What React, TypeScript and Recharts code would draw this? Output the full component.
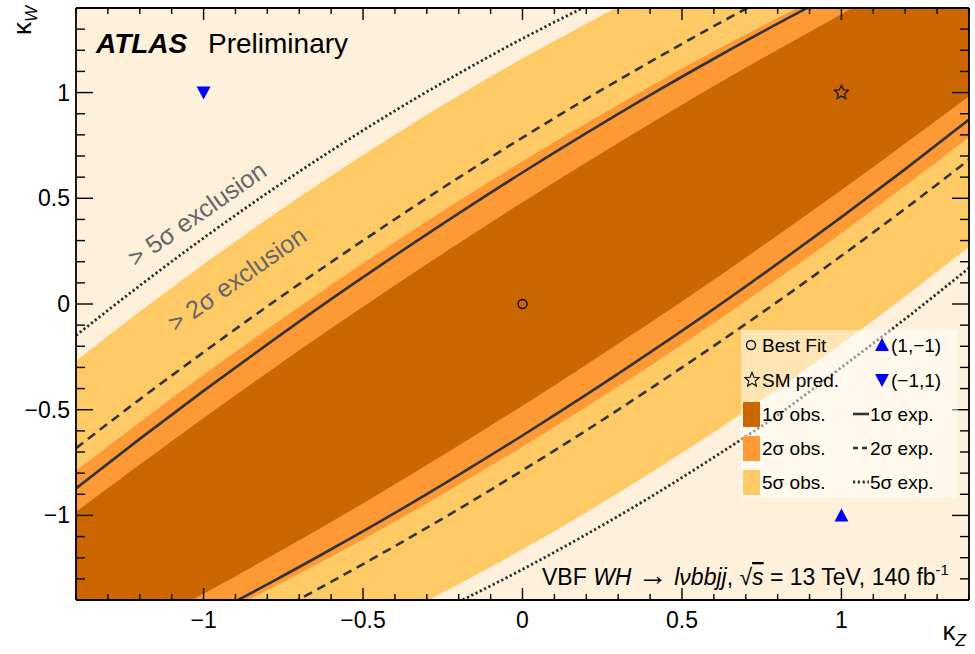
import React from "react";
import {
  ComposedChart, Area, Line, Scatter,
  XAxis, YAxis, CartesianGrid, Legend,
} from "recharts";

const FONT = "'Liberation Sans', Arial, Helvetica, sans-serif";

const C_PALE = "#FEF0DB";
const C_5S = "#FECA66";
const C_2S = "#FE9A36";
const C_1S = "#CC6600";
const C_LINE = "#333333";
const DOTS = "2.2 2.6";
const DASHES = "9 6";

// kappa_Z sampling of the contours
const kappaZ = [-1.4, -1.2, -1.0, -0.8, -0.6, -0.4, -0.2, 0, 0.2, 0.4, 0.6, 0.8, 1.0, 1.2, 1.4];

// kappa_W of each contour edge (upper = top-left edge, lower = bottom-right edge)
const obs1Upper = [-0.983, -0.759, -0.539, -0.325, -0.115, 0.089, 0.287, 0.481, 0.669, 0.853, 1.031, 1.203, 1.371, 1.533, 1.691];
const obs1Lower = [-1.691, -1.533, -1.371, -1.203, -1.031, -0.853, -0.669, -0.481, -0.287, -0.089, 0.115, 0.325, 0.539, 0.759, 0.983];
const obs2Upper = [-0.789, -0.559, -0.335, -0.119, 0.091, 0.293, 0.487, 0.675, 0.855, 1.029, 1.195, 1.353, 1.505, 1.649, 1.787];
const obs2Lower = [-1.787, -1.649, -1.505, -1.353, -1.195, -1.029, -0.855, -0.675, -0.487, -0.293, -0.091, 0.119, 0.335, 0.559, 0.789];
const obs5Upper = [-0.270, -0.036, 0.188, 0.402, 0.606, 0.801, 0.986, 1.161, 1.326, 1.482, 1.628, 1.764, 1.890, 2.007, 2.113];
const obs5Lower = [-2.113, -2.007, -1.890, -1.764, -1.628, -1.482, -1.326, -1.161, -0.986, -0.801, -0.606, -0.402, -0.188, 0.036, 0.270];
const exp1Upper = [-0.872, -0.638, -0.411, -0.191, 0.023, 0.229, 0.429, 0.622, 0.808, 0.988, 1.160, 1.326, 1.485, 1.637, 1.783];
const exp1Lower = [-1.783, -1.637, -1.485, -1.326, -1.160, -0.988, -0.808, -0.622, -0.429, -0.229, -0.023, 0.191, 0.411, 0.638, 0.872];
const exp2Upper = [-0.682, -0.451, -0.228, -0.011, 0.198, 0.401, 0.598, 0.787, 0.970, 1.145, 1.314, 1.477, 1.632, 1.781, 1.922];
const exp2Lower = [-1.922, -1.781, -1.632, -1.477, -1.314, -1.145, -0.970, -0.787, -0.598, -0.401, -0.198, 0.011, 0.228, 0.451, 0.682];
const exp5Upper = [-0.149, 0.087, 0.312, 0.525, 0.725, 0.914, 1.090, 1.255, 1.408, 1.548, 1.677, 1.793, 1.898, 1.991, 2.071];
const exp5Lower = [-2.071, -1.991, -1.898, -1.793, -1.677, -1.548, -1.408, -1.255, -1.090, -0.914, -0.725, -0.525, -0.300, -0.070, 0.170];

// marked points
const bestFit = [{ kz: 0, kw: 0 }];
const smPrediction = [{ kz: 1, kw: 1 }];
const pointPlusMinus = [{ kz: 1, kw: -1 }];
const pointMinusPlus = [{ kz: -1, kw: 1 }];

const axisTicks = [
  -1.4, -1.3, -1.2, -1.1, -1, -0.9, -0.8, -0.7, -0.6, -0.5, -0.4, -0.3, -0.2, -0.1,
  0, 0.1, 0.2, 0.3, 0.4, 0.5, 0.6, 0.7, 0.8, 0.9, 1, 1.1, 1.2, 1.3, 1.4,
];
const majorTicks = [-1, -0.5, 0, 0.5, 1];
const majorLabels = ["\u22121", "\u22120.5", "0", "0.5", "1"];

const data = kappaZ.map((kz, i) => ({
  kz,
  obs5: [obs5Lower[i], obs5Upper[i]],
  obs2: [obs2Lower[i], obs2Upper[i]],
  obs1: [obs1Lower[i], obs1Upper[i]],
  exp1Upper: exp1Upper[i],
  exp1Lower: exp1Lower[i],
  exp2Upper: exp2Upper[i],
  exp2Lower: exp2Lower[i],
  exp5Upper: exp5Upper[i],
  exp5Lower: exp5Lower[i],
}));

const majorIndex = (v: number) => majorTicks.findIndex((m) => Math.abs(m - v) < 1e-6);

function BottomTick({ x, y, payload }: any) {
  const k = majorIndex(payload.value);
  return (
    <g>
      <line x1={x} x2={x} y1={y} y2={y - (k >= 0 ? 12 : 6)} stroke="#000" strokeWidth={1.4} />
      {k >= 0 && (
        <text x={x} y={y + 28} textAnchor="middle" fontSize={23} fontFamily={FONT} fill="#000">
          {majorLabels[k]}
        </text>
      )}
    </g>
  );
}

function TopTick({ x, y, payload }: any) {
  const k = majorIndex(payload.value);
  return <line x1={x} x2={x} y1={y} y2={y + (k >= 0 ? 12 : 6)} stroke="#000" strokeWidth={1.4} />;
}

function LeftTick({ x, y, payload }: any) {
  const k = majorIndex(payload.value);
  return (
    <g>
      <line x1={x} x2={x + (k >= 0 ? 17 : 9)} y1={y} y2={y} stroke="#000" strokeWidth={1.4} />
      {k >= 0 && (
        <text x={x - 6} y={y + 8} textAnchor="end" fontSize={23} fontFamily={FONT} fill="#000">
          {majorLabels[k]}
        </text>
      )}
    </g>
  );
}

function RightTick({ x, y, payload }: any) {
  const k = majorIndex(payload.value);
  return <line x1={x} x2={x - (k >= 0 ? 17 : 9)} y1={y} y2={y} stroke="#000" strokeWidth={1.4} />;
}

function starPath(cx: number, cy: number, R: number, r: number) {
  let d = "";
  for (let i = 0; i < 10; i++) {
    const rad = i % 2 === 0 ? R : r;
    const a = -Math.PI / 2 + (i * Math.PI) / 5;
    d += (i === 0 ? "M" : "L") + (cx + rad * Math.cos(a)).toFixed(2) + "," + (cy + rad * Math.sin(a)).toFixed(2);
  }
  return d + "Z";
}

const CircleShape = ({ cx, cy }: any) => (
  <circle cx={cx} cy={cy} r={4.5} fill="none" stroke="#000" strokeWidth={1.3} />
);
const StarShape = ({ cx, cy }: any) => (
  <path d={starPath(cx, cy, 7.5, 3.4)} fill="none" stroke="#000" strokeWidth={1.1} />
);
const UpTriangle = ({ cx, cy }: any) => (
  <path d={`M${cx},${cy - 7}L${cx + 7},${cy + 6}L${cx - 7},${cy + 6}Z`} fill="#0000FF" />
);
const DownTriangle = ({ cx, cy }: any) => (
  <path d={`M${cx},${cy + 7}L${cx + 7},${cy - 6}L${cx - 7},${cy - 6}Z`} fill="#0000FF" />
);

function LegendBox() {
  const rows = [15, 50, 84, 118, 152];
  const fs = 19;
  const t = (x: number, row: number, s: React.ReactNode) => (
    <text x={x} y={rows[row] + 7} fontSize={fs} fontFamily={FONT} fill="#000">{s}</text>
  );
  return (
    <svg width={217} height={168} style={{ display: "block" }}>
      <rect x={0} y={0} width={217} height={168} fill="#FFFFFF" fillOpacity={0.5} />
      <circle cx={10} cy={rows[0]} r={4.5} fill="none" stroke="#000" strokeWidth={1.3} />
      {t(21, 0, "Best Fit")}
      <path d={starPath(11, rows[1], 7.5, 3.4)} fill="none" stroke="#000" strokeWidth={1.1} />
      {t(21, 1, "SM pred.")}
      <rect x={2} y={rows[2] - 12} width={17} height={25} fill={C_1S} />
      {t(21, 2, "1\u03c3 obs.")}
      <rect x={2} y={rows[3] - 12} width={17} height={25} fill={C_2S} />
      {t(21, 3, "2\u03c3 obs.")}
      <rect x={2} y={rows[4] - 12} width={17} height={25} fill={C_5S} />
      {t(21, 4, "5\u03c3 obs.")}

      <path d={`M141,${rows[0] - 7}L148,${rows[0] + 6}L134,${rows[0] + 6}Z`} fill="#0000FF" />
      {t(150, 0, "(1,\u22121)")}
      <path d={`M141,${rows[1] + 7}L148,${rows[1] - 6}L134,${rows[1] - 6}Z`} fill="#0000FF" />
      {t(150, 1, "(\u22121,1)")}
      <line x1={112} x2={128} y1={rows[2]} y2={rows[2]} stroke={C_LINE} strokeWidth={2.6} />
      {t(129, 2, "1\u03c3 exp.")}
      <line x1={112} x2={128} y1={rows[3]} y2={rows[3]} stroke={C_LINE} strokeWidth={2.6} strokeDasharray="5 4" />
      {t(129, 3, "2\u03c3 exp.")}
      <line x1={112} x2={128} y1={rows[4]} y2={rows[4]} stroke={C_LINE} strokeWidth={2.8} strokeDasharray={DOTS} />
      {t(129, 4, "5\u03c3 exp.")}
    </svg>
  );
}

export default function App() {
  return (
    <div style={{ position: "absolute", left: 0, top: 0, width: 975, height: 654, background: "#fff" }}>
      <ComposedChart
        width={975}
        height={654}
        data={data}
        margin={{ top: 7, right: 5, bottom: 14, left: 16 }}
      >
        <CartesianGrid fill={C_PALE} stroke="none" horizontal={false} vertical={false} />
        <XAxis
          xAxisId="b"
          dataKey="kz"
          type="number"
          domain={[-1.4, 1.4]}
          allowDataOverflow
          ticks={axisTicks}
          interval={0}
          height={40}
          tickSize={0}
          tickMargin={0}
          tick={BottomTick}
          axisLine={{ stroke: "#000", strokeWidth: 1.8 }}
        />
        <XAxis
          xAxisId="t"
          orientation="top"
          dataKey="kz"
          type="number"
          domain={[-1.4, 1.4]}
          allowDataOverflow
          ticks={axisTicks}
          interval={0}
          height={1}
          tickSize={0}
          tickMargin={0}
          tick={TopTick}
          axisLine={{ stroke: "#000", strokeWidth: 1.8 }}
        />
        <YAxis
          yAxisId="l"
          type="number"
          domain={[-1.4, 1.4]}
          allowDataOverflow
          ticks={axisTicks}
          interval={0}
          width={60}
          tickSize={0}
          tickMargin={0}
          tick={LeftTick}
          axisLine={{ stroke: "#000", strokeWidth: 1.8 }}
        />
        <YAxis
          yAxisId="r"
          orientation="right"
          type="number"
          domain={[-1.4, 1.4]}
          allowDataOverflow
          ticks={axisTicks}
          interval={0}
          width={1}
          tickSize={0}
          tickMargin={0}
          tick={RightTick}
          axisLine={{ stroke: "#000", strokeWidth: 1.8 }}
        />

        <Area xAxisId="b" yAxisId="l" dataKey="obs5" type="monotone" fill={C_5S} fillOpacity={1} stroke="none" activeDot={false} isAnimationActive={false} />
        <Area xAxisId="b" yAxisId="l" dataKey="obs2" type="monotone" fill={C_2S} fillOpacity={1} stroke="none" activeDot={false} isAnimationActive={false} />
        <Area xAxisId="b" yAxisId="l" dataKey="obs1" type="monotone" fill={C_1S} fillOpacity={1} stroke="none" activeDot={false} isAnimationActive={false} />

        <Line xAxisId="b" yAxisId="l" dataKey="exp5Upper" type="monotone" stroke="#2a2a2a" strokeWidth={2.8} strokeDasharray={DOTS} dot={false} activeDot={false} isAnimationActive={false} />
        <Line xAxisId="b" yAxisId="l" dataKey="exp5Lower" type="monotone" stroke="#2a2a2a" strokeWidth={2.8} strokeDasharray={DOTS} dot={false} activeDot={false} isAnimationActive={false} />
        <Line xAxisId="b" yAxisId="l" dataKey="exp2Upper" type="monotone" stroke={C_LINE} strokeWidth={2.6} strokeDasharray={DASHES} dot={false} activeDot={false} isAnimationActive={false} />
        <Line xAxisId="b" yAxisId="l" dataKey="exp2Lower" type="monotone" stroke={C_LINE} strokeWidth={2.6} strokeDasharray={DASHES} dot={false} activeDot={false} isAnimationActive={false} />
        <Line xAxisId="b" yAxisId="l" dataKey="exp1Upper" type="monotone" stroke={C_LINE} strokeWidth={2.6} dot={false} activeDot={false} isAnimationActive={false} />
        <Line xAxisId="b" yAxisId="l" dataKey="exp1Lower" type="monotone" stroke={C_LINE} strokeWidth={2.6} dot={false} activeDot={false} isAnimationActive={false} />

        <Scatter xAxisId="b" yAxisId="l" data={bestFit} dataKey="kw" shape={CircleShape} isAnimationActive={false} />
        <Scatter xAxisId="b" yAxisId="l" data={smPrediction} dataKey="kw" shape={StarShape} isAnimationActive={false} />
        <Scatter xAxisId="b" yAxisId="l" data={pointPlusMinus} dataKey="kw" shape={UpTriangle} isAnimationActive={false} />
        <Scatter xAxisId="b" yAxisId="l" data={pointMinusPlus} dataKey="kw" shape={DownTriangle} isAnimationActive={false} />

        <Legend
          verticalAlign="middle"
          content={() => <LegendBox />}
          wrapperStyle={{ left: 741, top: 330, width: 217, height: 168 }}
        />
      </ComposedChart>

      <svg
        width={975}
        height={654}
        style={{ position: "absolute", left: 0, top: 0, pointerEvents: "none" }}
        fontFamily={FONT}
      >
        <text x={96} y={53} fontSize={28} fontWeight="bold" fontStyle="italic" fill="#000">ATLAS</text>
        <text x={208} y={53} fontSize={28} fill="#000">Preliminary</text>

        <text transform="translate(202,221) rotate(-35)" textAnchor="middle" fontSize={25} fill="#666666">
          {"> 5\u03c3 exclusion"}
        </text>
        <text transform="translate(242,286) rotate(-35)" textAnchor="middle" fontSize={25} fill="#666666">
          {"> 2\u03c3 exclusion"}
        </text>

        <text x={542} y={585} fontSize={23} fill="#000">
          {"VBF "}
          <tspan fontStyle="italic">WH</tspan>
          {" "}
          <tspan fontSize={30}>{"\u2192"}</tspan>
          {" "}
          <tspan fontStyle="italic">{"l\u03bdbbjj"}</tspan>
          {", \u221a"}
          <tspan fontStyle="italic" textDecoration="overline">s</tspan>
          {" = 13 TeV, 140 fb"}
          <tspan dy={-10} fontSize={15}>-1</tspan>
        </text>

        <text x={966} y={640} textAnchor="end" fill="#000">
          <tspan fontSize={26}>{"\u03ba"}</tspan>
          <tspan fontSize={17} fontStyle="italic" dy={6}>Z</tspan>
        </text>
        <text transform="translate(31,6) rotate(-90)" textAnchor="end" fill="#000">
          <tspan fontSize={26}>{"\u03ba"}</tspan>
          <tspan fontSize={17} fontStyle="italic" dy={6}>W</tspan>
        </text>
      </svg>
    </div>
  );
}
